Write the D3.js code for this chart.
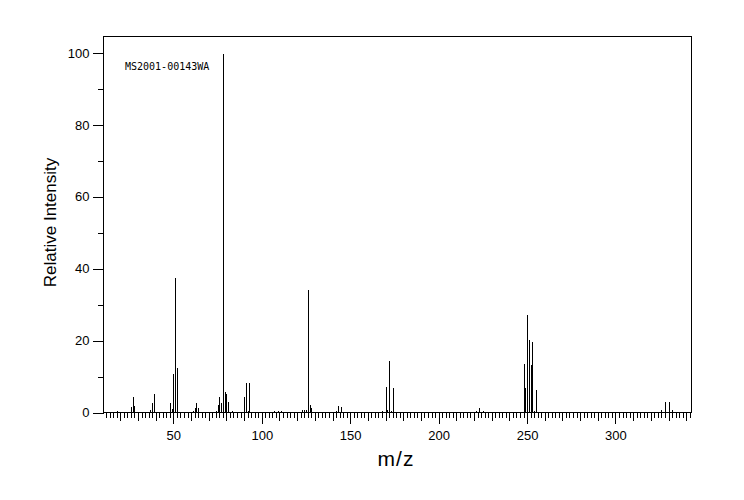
<!DOCTYPE html>
<html><head><meta charset="utf-8">
<script src="https://cdn.jsdelivr.net/npm/d3@7"></script>
<style>
body{margin:0;background:#fff;}
svg{display:block;}
text{fill:#000;}
</style></head>
<body>
<script>
// m/z values and relative intensities
const mz = [12,16,17,18,25,26,27,28,29,32,36,37,38,39,40,41,44,45,46,48,49,50,51,52,53,
  56,57,58,59,60,61,62,63,64,65,66,67,68,69,70,73,74,75,76,77,78,79,80,81,82,83,84,
  87,88,89,90,91,92,93,94,95,98,104,105,106,107,109,110,111,113,115,117,118,119,
  123,124,125,126,127,128,129,130,132,141,142,143,144,145,146,155,156,158,159,162,
  167,168,170,171,172,173,174,175,195,196,198,204,206,217,220,221,222,223,224,225,
  246,248,249,250,251,252,253,254,255,256,283,284,285,288,311,312,313,314,315,316,
  326,327,328,329,330,331,332,333];
const intensity = [0.4,0.3,0.4,0.6,0.4,1.7,4.5,2.0,0.3,0.5,0.4,1.1,2.8,5.4,0.4,0.3,0.5,0.4,0.3,3.0,1.2,10.9,37.7,12.6,0.5,
  0.4,0.5,0.4,0.4,0.4,0.6,1.5,2.8,1.6,0.4,0.4,0.4,0.4,0.5,0.4,0.4,0.6,2.3,4.7,2.8,100,5.9,5.5,3.2,0.4,0.6,0.4,
  0.4,0.4,0.5,4.7,8.6,0.6,8.4,0.4,0.3,0.5,0.3,0.3,0.4,0.7,0.7,0.4,0.6,0.5,0.3,0.3,0.3,0.3,
  1.1,1.1,1.1,34.3,2.5,1.6,0.4,0.4,0.3,0.4,0.7,2.0,0.4,1.7,0.4,0.3,0.4,0.4,0.3,0.3,
  0.4,0.8,7.5,1.1,14.5,0.7,7.0,0.5,0.4,0.4,0.4,0.4,0.4,0.3,0.4,0.8,0.3,1.5,0.5,0.6,
  0.4,13.9,7.1,27.3,20.5,13.4,19.9,0.6,6.4,0.4,0.4,0.4,0.4,0.4,0.4,0.4,0.4,0.4,0.4,0.4,
  1.0,0.4,3.1,0.4,3.1,0.4,1.1,0.4];
const xMajorTicks = [50,100,150,200,250,300];
const yMajorTicks = [0,20,40,60,80,100];
const sampleId = "MS2001-00143WA";
const xTitle = "m/z";
const yTitle = "Relative Intensity";

const SANS = "'Liberation Sans', Arial, sans-serif";
const MONO = "'DejaVu Sans Mono', 'Liberation Mono', monospace";

const W = 744, H = 500;
const svg = d3.select("body").append("svg").attr("width", W).attr("height", H);

const pLeft = 103.5, pRight = 691.5, pTop = 36.5, pBottom = 412.5;
const x = d3.scaleLinear().domain([10.5, 343]).range([pLeft, pRight]);
const y = d3.scaleLinear().domain([0, 104.6]).range([pBottom, pTop]);

// bars
svg.append("g").selectAll("line").data(mz).join("line")
  .attr("x1", (d) => Math.round(x(d)) + 0.5)
  .attr("x2", (d) => Math.round(x(d)) + 0.5)
  .attr("y1", pBottom)
  .attr("y2", (d, i) => Math.min(pBottom - 1, Math.round(y(intensity[i])) + 0.5))
  .attr("stroke", "#000").attr("stroke-width", 1).attr("shape-rendering", "crispEdges");

// x axis ticks
const evens = d3.range(12, 343, 2);
const tens = d3.range(20, 343, 10);
function styleAxis(g) {
  g.select(".domain").remove();
  g.selectAll("line").attr("stroke", "#000").attr("shape-rendering", "crispEdges");
}
svg.append("g").attr("transform", `translate(0,${pBottom})`)
  .call(d3.axisBottom(x).tickValues(evens).tickSize(5).tickFormat(""))
  .call(styleAxis);
svg.append("g").attr("transform", `translate(0,${pBottom})`)
  .call(d3.axisBottom(x).tickValues(tens).tickSize(8).tickFormat(""))
  .call(styleAxis);
svg.append("g").attr("transform", `translate(0,${pBottom})`)
  .call(d3.axisBottom(x).tickValues(xMajorTicks).tickSize(11).tickPadding(7).tickFormat(d3.format("d")))
  .call(styleAxis)
  .call((g) => g.selectAll("text").attr("font-size", 13).style("font-family", SANS));

// y axis ticks
svg.append("g").attr("transform", `translate(${pLeft},0)`)
  .call(d3.axisLeft(y).tickValues(d3.range(10, 101, 20)).tickSize(6).tickFormat(""))
  .call(styleAxis);
svg.append("g").attr("transform", `translate(${pLeft},0)`)
  .call(d3.axisLeft(y).tickValues(yMajorTicks).tickSize(11).tickPadding(3).tickFormat(d3.format("d")))
  .call(styleAxis)
  .call((g) => g.selectAll("text").attr("font-size", 13).style("font-family", SANS));

// frame
svg.append("rect").attr("x", pLeft).attr("y", pTop)
  .attr("width", pRight - pLeft).attr("height", pBottom - pTop)
  .attr("fill", "none").attr("stroke", "#000").attr("shape-rendering", "crispEdges");

// sample id
svg.append("text").attr("x", 125).attr("y", 69.5)
  .style("font-family", MONO).attr("font-size", 10)
  .text(sampleId);

// titles
svg.append("text").attr("x", 396).attr("y", 466).attr("text-anchor", "middle")
  .style("font-family", SANS).attr("font-size", 21).attr("letter-spacing", 1).text(xTitle);
svg.append("text").attr("transform", "translate(56,222.5) rotate(-90)")
  .style("font-family", SANS).attr("text-anchor", "middle").attr("font-size", 17).text(yTitle);
</script>
</body></html>
